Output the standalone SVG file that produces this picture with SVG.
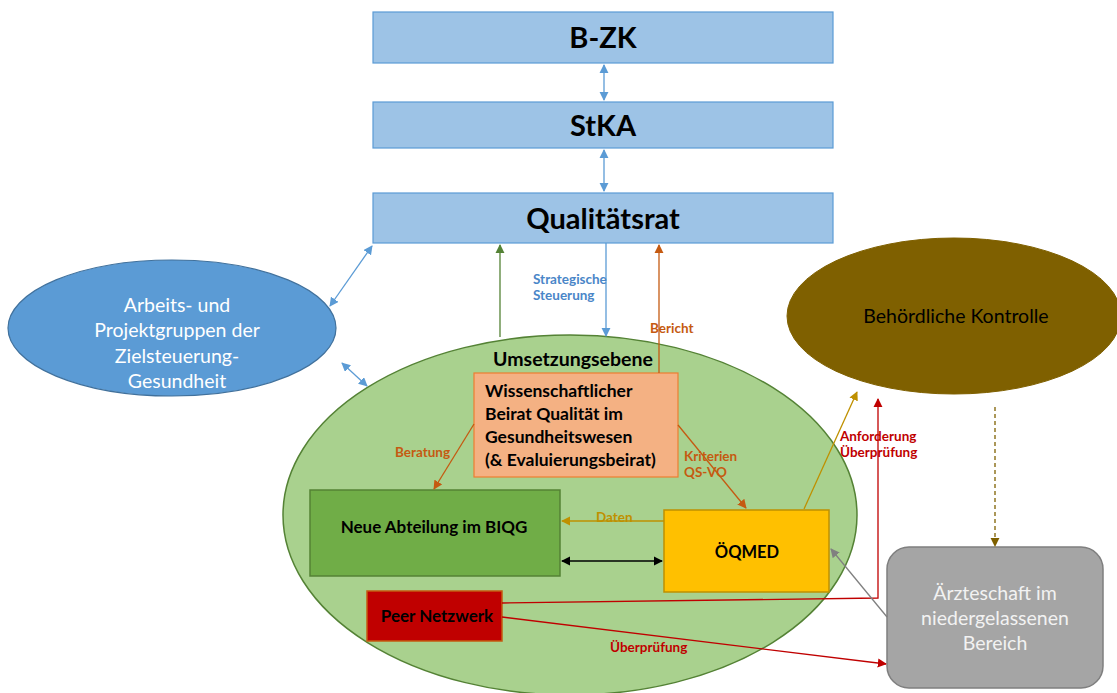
<svg xmlns="http://www.w3.org/2000/svg" width="1117" height="693" viewBox="0 0 1117 693">
<defs>
<style>
text{font-family:Lato,"Open Sans","Liberation Sans",sans-serif}
.b{font-weight:bold}
.top{fill:#9dc3e6;stroke:#5b9bd5;stroke-width:1.2}
.tt{font-size:29px;font-weight:bold;fill:#000;text-anchor:middle}
.lbl{font-size:13.5px;font-weight:bold}
.c{fill:none;stroke-width:1.3}
</style>
<marker id="aB" viewBox="0 0 10 10" refX="9" refY="5" markerWidth="7" markerHeight="7" orient="auto-start-reverse"><path d="M0,0L10,5L0,10z" fill="#5b9bd5"/></marker>
<marker id="aG" viewBox="0 0 10 10" refX="9" refY="5" markerWidth="7" markerHeight="7" orient="auto"><path d="M0,0L10,5L0,10z" fill="#548235"/></marker>
<marker id="aO" viewBox="0 0 10 10" refX="9" refY="5" markerWidth="7" markerHeight="7" orient="auto"><path d="M0,0L10,5L0,10z" fill="#c55a11"/></marker>
<marker id="aY" viewBox="0 0 10 10" refX="9" refY="5" markerWidth="7" markerHeight="7" orient="auto"><path d="M0,0L10,5L0,10z" fill="#bf9000"/></marker>
<marker id="aK" viewBox="0 0 10 10" refX="9" refY="5" markerWidth="7" markerHeight="7" orient="auto-start-reverse"><path d="M0,0L10,5L0,10z" fill="#000"/></marker>
<marker id="aR" viewBox="0 0 10 10" refX="9" refY="5" markerWidth="7" markerHeight="7" orient="auto"><path d="M0,0L10,5L0,10z" fill="#c00000"/></marker>
<marker id="aGr" viewBox="0 0 10 10" refX="9" refY="5" markerWidth="7" markerHeight="7" orient="auto"><path d="M0,0L10,5L0,10z" fill="#808080"/></marker>
<marker id="aBr" viewBox="0 0 10 10" refX="9" refY="5" markerWidth="7" markerHeight="7" orient="auto"><path d="M0,0L10,5L0,10z" fill="#7f6000"/></marker>
</defs>
<rect width="1117" height="693" fill="#fff"/>

<g id="bzk"><rect class="top" x="373" y="12" width="460" height="51"/><text class="tt" x="603" y="48">B-ZK</text></g>
<g id="stka"><rect class="top" x="373" y="102" width="460" height="46"/><text class="tt" x="603" y="136">StKA</text></g>
<g id="qualitaetsrat"><rect class="top" x="373" y="193" width="460" height="50"/><text class="tt" x="603" y="229">Qualitätsrat</text></g>

<g id="arbeitsgruppen"><ellipse cx="172" cy="328" rx="164" ry="68" fill="#5b9bd5" stroke="#41719c" stroke-width="1.2"/>
<text font-size="19.5" fill="#fff" text-anchor="middle"><tspan x="177" y="312">Arbeits- und</tspan><tspan x="177" y="337">Projektgruppen der</tspan><tspan x="177" y="363">Zielsteuerung-</tspan><tspan x="177" y="388">Gesundheit</tspan></text></g>

<g id="behoerde"><ellipse cx="954" cy="316" rx="167" ry="78" fill="#7f6000" stroke="#7f6000"/>
<text font-size="19.5" fill="#000" text-anchor="middle" x="956" y="323">Behördliche Kontrolle</text></g>

<g id="umsetzungsebene"><ellipse cx="570" cy="515" rx="287" ry="180" fill="#a9d18e" stroke="#548235" stroke-width="1.5"/>
<text class="b" font-size="19.5" fill="#000" text-anchor="middle" x="573" y="366">Umsetzungsebene</text></g>

<g id="aerzteschaft"><rect x="887" y="547" width="216" height="141" rx="22" fill="#a5a5a5" stroke="#7f7f7f" stroke-width="1.5"/>
<text font-size="19.5" fill="#f2f2f2" text-anchor="middle"><tspan x="995" y="600">Ärzteschaft im</tspan><tspan x="995" y="625">niedergelassenen</tspan><tspan x="995" y="650">Bereich</tspan></text></g>

<g id="beirat"><rect x="474" y="373" width="204" height="104" fill="#f4b183" stroke="#ed7d31" stroke-width="1.2"/>
<text class="b" font-size="17.5" fill="#000"><tspan x="485" y="397">Wissenschaftlicher</tspan><tspan x="485" y="420">Beirat Qualität im</tspan><tspan x="485" y="443">Gesundheitswesen</tspan><tspan x="485" y="466">(&amp; Evaluierungsbeirat)</tspan></text></g>

<g id="biqg"><rect x="310" y="490" width="250" height="86" fill="#70ad47" stroke="#548235" stroke-width="1.5"/>
<text class="b" font-size="17" fill="#000" text-anchor="middle" x="434" y="533">Neue Abteilung im BIQG</text></g>

<g id="oeqmed"><rect x="664" y="510" width="165" height="82" fill="#ffc000" stroke="#bf9000" stroke-width="1.5"/>
<text class="b" font-size="16.5" fill="#000" text-anchor="middle" x="747" y="558">ÖQMED</text></g>

<g id="peer"><rect x="367" y="591" width="135" height="50" fill="#c00000" stroke="#c55a11" stroke-width="1.5"/>
<text class="b" font-size="17" fill="#000" text-anchor="middle" x="437" y="622">Peer Netzwerk</text></g>

<g id="connectors">
<line class="c" x1="604" y1="65" x2="604" y2="100" stroke="#5b9bd5" marker-start="url(#aB)" marker-end="url(#aB)"/>
<line class="c" x1="604" y1="150" x2="604" y2="191" stroke="#5b9bd5" marker-start="url(#aB)" marker-end="url(#aB)"/>
<line class="c" x1="372" y1="246" x2="330" y2="306" stroke="#5b9bd5" marker-start="url(#aB)" marker-end="url(#aB)"/>
<line class="c" x1="342" y1="363" x2="367" y2="386" stroke="#5b9bd5" marker-start="url(#aB)" marker-end="url(#aB)"/>
<line class="c" x1="500" y1="337" x2="500" y2="245" stroke="#548235" marker-end="url(#aG)"/>
<line class="c" x1="606" y1="243" x2="606" y2="336" stroke="#5b9bd5" marker-end="url(#aB)"/>
<line class="c" x1="659" y1="373" x2="659" y2="245" stroke="#c55a11" marker-end="url(#aO)"/>
<line class="c" x1="474" y1="424" x2="434" y2="489" stroke="#c55a11" marker-end="url(#aO)"/>
<line class="c" x1="678" y1="425" x2="746" y2="508" stroke="#c55a11" marker-end="url(#aO)"/>
<line class="c" x1="664" y1="521" x2="562" y2="521" stroke="#bf9000" marker-end="url(#aY)"/>
<line class="c" x1="562" y1="561" x2="662" y2="561" stroke="#000" marker-start="url(#aK)" marker-end="url(#aK)"/>
<line class="c" x1="804" y1="509" x2="857" y2="392" stroke="#bf9000" marker-end="url(#aY)"/>
<polyline class="c" points="502,603 878,598 878,399" stroke="#c00000" marker-end="url(#aR)"/>
<line class="c" x1="502" y1="617" x2="886" y2="664" stroke="#c00000" marker-end="url(#aR)"/>
<line class="c" x1="887" y1="617" x2="831" y2="549" stroke="#808080" marker-end="url(#aGr)"/>
<line class="c" x1="995" y1="407" x2="995" y2="546" stroke="#7f6000" stroke-dasharray="4,3" marker-end="url(#aBr)"/>
<text class="lbl" fill="#4a86c8"><tspan x="533" y="284">Strategische</tspan><tspan x="533" y="300">Steuerung</tspan></text>
<text class="lbl" fill="#c55a11" x="650" y="333">Bericht</text>
<text class="lbl" fill="#c55a11" x="395" y="457">Beratung</text>
<text class="lbl" fill="#c55a11"><tspan x="684" y="461">Kriterien</tspan><tspan x="684" y="477">QS-VO</tspan></text>
<text class="lbl" fill="#bf9000" x="596" y="522">Daten</text>
<text class="lbl" fill="#c00000"><tspan x="840" y="441">Anforderung</tspan><tspan x="840" y="457">Überprüfung</tspan></text>
<text class="lbl" fill="#c00000" x="610" y="652">Überprüfung</text>
</g>
</svg>
